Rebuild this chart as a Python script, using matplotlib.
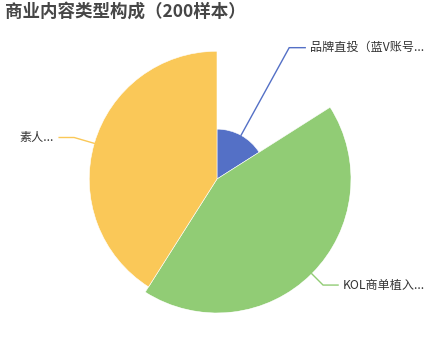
import numpy as np
import matplotlib
matplotlib.use("Agg")
import matplotlib.pyplot as plt

plt.rcParams['font.family'] = ['Noto Sans CJK SC', 'DejaVu Sans']

title = "商业内容类型构成（200样本）"
categories = ["品牌直投（蓝V账号...", "KOL商单植入...", "素人..."]
values = [32, 86, 82]
colors = ["#5470c6", "#91cc75", "#fac858"]

W, H = 435, 360
fig = plt.figure(figsize=(W / 100, H / 100), dpi=100)

cx, cy, R = 217, 360 - 179, 134
ax = fig.add_axes([(cx - R) / W, (cy - R) / H, 2 * R / W, 2 * R / H], projection='polar')
ax.set_theta_zero_location('N')
ax.set_theta_direction(-1)
ax.set_ylim(0, max(values))
ax.set_axis_off()

total = sum(values)
widths = [v / total * 2 * np.pi for v in values]
starts = np.concatenate([[0], np.cumsum(widths)[:-1]])
ax.bar(starts, values, width=widths, align='edge', color=colors,
       edgecolor='white', linewidth=0.4)

# label overlay in pixel coords
lab = fig.add_axes([0, 0, 1, 1])
lab.set_xlim(0, W)
lab.set_ylim(0, H)
lab.set_axis_off()

line_len = [100, 16, 21]
line_len2 = [16, 15, 15]
fig.canvas.draw()
for i, (name, v, c) in enumerate(zip(categories, values, colors)):
    mid = starts[i] + widths[i] / 2
    p0 = ax.transData.transform((mid, v))
    ctr = ax.transData.transform((0, 0))
    d = (p0 - ctr) / np.linalg.norm(p0 - ctr)
    p1 = p0 + d * line_len[i]
    sgn = 1 if d[0] >= 0 else -1
    p2 = p1 + np.array([sgn * line_len2[i], 0])
    lab.plot([p0[0], p1[0], p2[0]], [p0[1], p1[1], p2[1]], color=c, lw=1,
             solid_joinstyle='miter')
    lab.text(p2[0] + sgn * 5, p2[1], name, ha='left' if sgn > 0 else 'right',
             va='center', fontsize=8.7, color='#333333')

fig.text(5 / W, 1 - 3 / H, title, ha='left', va='top', fontsize=12.6,
         fontweight='bold', color='#464646')

fig.savefig("out.png", dpi=100)
